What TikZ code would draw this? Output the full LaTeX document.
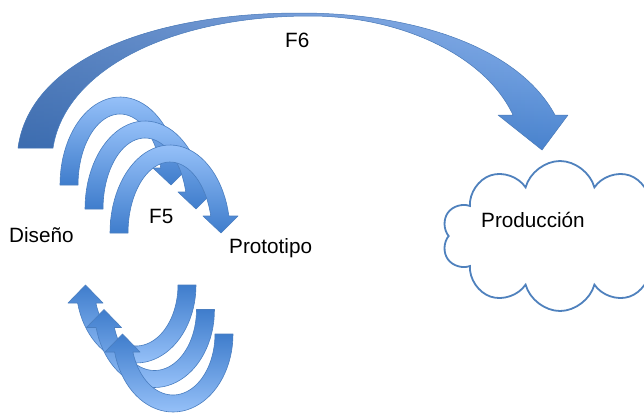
\documentclass[tikz,border=0pt]{standalone}
\usepackage{fontspec}
\setmainfont{Liberation Sans}
\usetikzlibrary{shapes.symbols,fadings}
\definecolor{bigtop}{HTML}{8DB6F1}
\definecolor{bigbottom}{HTML}{4A84CF}
\definecolor{bigdark}{HTML}{2F5590}
\definecolor{bigline}{HTML}{4A7AB8}
\definecolor{archlight}{HTML}{95C0F8}
\definecolor{archdark}{HTML}{3F7DCC}
\definecolor{archline}{HTML}{4A7EC0}
\definecolor{cloudline}{HTML}{4F81BD}
\tikzfading[name=leftdark, left color=transparent!0, middle color=transparent!100, right color=transparent!100]
\newcommand\bigarrowpath{(18,148) .. controls (30,60) and (150,13) .. (300,13) .. controls (420,13) and (520,50) .. (555,115) -- (568,115) -- (542,150) -- (498,115) -- (513,115) .. controls (485,55) and (400,16) .. (310,16) .. controls (170,16) and (65,70) .. (53,148) -- cycle}
\begin{document}
\begin{tikzpicture}[x=1pt,y=-1pt,
  lbl/.style={font=\fontsize{20.7}{24}\selectfont, inner sep=0pt, anchor=base west},
  archband/.style={shade, top color=archlight, bottom color=archdark, draw=archline, line width=0.6pt, line join=round},
  turnband/.style={shade, top color=archdark, bottom color=archlight, draw=archline, line width=0.6pt, line join=round}]
\useasboundingbox (0,0) rectangle (644,413);
% big F6 arrow
\shade[top color=bigtop, bottom color=bigbottom] \bigarrowpath;
\fill[bigdark, fill opacity=0.5, path fading=leftdark] \bigarrowpath;
\draw[bigline, line width=0.5pt, line join=round] \bigarrowpath;
% F5 arches
\foreach \dx/\dy in {-50/-48, -25/-24, 0/0} {
  \begin{scope}[shift={(\dx,\dy)}]
    \path[archband]
      plot[domain=180:348.86, samples=40] ({170+60*cos(\x)},{233+88*sin(\x)})
      -- (238,216) -- (221,233) -- (203,216)
      -- plot[domain=346.15:180, samples=40] ({170+42*cos(\x)},{233+71*sin(\x)})
      -- cycle;
  \end{scope}
}
% lower turning arrows
\foreach \dx/\dy in {-37/-49, -18.5/-24.5, 0/0} {
  \begin{scope}[shift={(\dx,\dy)}]
    \path[turnband]
      plot[domain=0:166.66, samples=40] ({173+60*cos(\x)},{334+78*sin(\x)})
      -- (105,352) -- (122.5,334) -- (140,352)
      -- plot[domain=162.84:0, samples=40] ({173+42*cos(\x)},{334+61*sin(\x)})
      -- cycle;
  \end{scope}
}
% cloud
\node[cloud, cloud puffs=10, aspect=1.5, minimum width=236pt, minimum height=150pt, draw=cloudline, line width=1.8pt, fill=white, inner sep=0pt] (prod) at (560,236) {};
% labels
\node[lbl] (f6) at (285,47) {F6};
\node[lbl] (diseno) at (9,242) {Diseño};
\node[lbl] (f5) at (149,223) {F5};
\node[lbl] (proto) at (229,253) {Prototipo};
\node[lbl] (produccion) at (481,227) {Producción};
\end{tikzpicture}
\end{document}
